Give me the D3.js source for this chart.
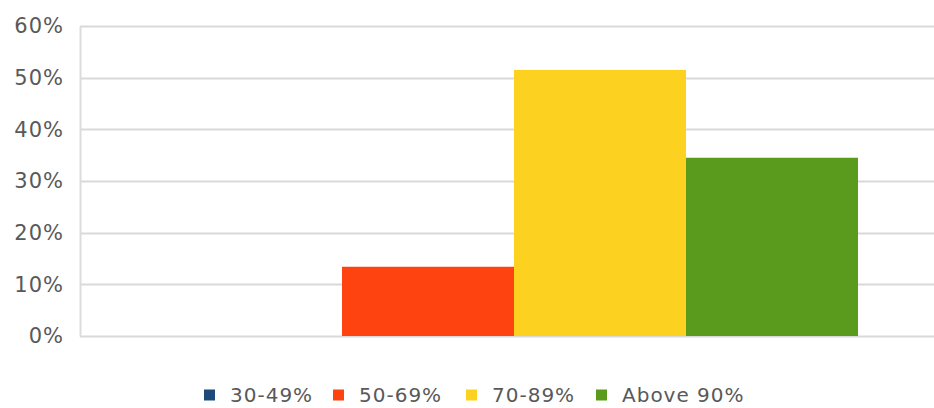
<!DOCTYPE html>
<html><head><meta charset="utf-8">
<script src="https://cdn.jsdelivr.net/npm/d3@7"></script>
<style>body{margin:0;background:#fff}svg{display:block}</style>
</head><body>
<svg id="c" width="934" height="408"></svg>
<script>
const seriesNames = ["30-49%", "50-69%", "70-89%", "Above 90%"];
const seriesValues = [0, 13.4, 51.5, 34.5];
const seriesColors = ["#1d4a78", "#fe4210", "#fdd11f", "#5a9b1d"];
const yTicks = [0, 10, 20, 30, 40, 50, 60];

const svg = d3.select("#c");
const W = 934, H = 408;
const m = {left: 80, right: -14, top: 26, bottom: 72};
const plotL = m.left, plotR = W - m.right, plotT = m.top, plotB = H - m.bottom;

const y = d3.scaleLinear().domain([0, 60]).range([plotB, plotT]);
const outer = d3.scaleBand().domain(["g"]).range([plotL, plotR]).paddingInner(0).paddingOuter(0.1308);
const x = d3.scaleBand().domain(seriesNames).range([outer("g"), outer("g") + outer.bandwidth()]).padding(0);

// gridlines
svg.append("g").selectAll("line").data(yTicks).join("line")
  .attr("x1", plotL).attr("x2", W)
  .attr("y1", d => Math.round(y(d)) + 0.5).attr("y2", d => Math.round(y(d)) + 0.5)
  .attr("stroke", "#d9d9d9").attr("stroke-width", 2);

// y axis
const yAxis = d3.axisLeft(y).tickValues(yTicks).tickFormat(d => d + "%").tickSize(0).tickPadding(16);
const ga = svg.append("g").attr("transform", `translate(${plotL},0)`).call(yAxis);
ga.select(".domain").attr("stroke", "#dcdcdc").attr("stroke-width", 2);
ga.selectAll("text").attr("font-family", "DejaVu Sans").attr("font-size", 21)
  .attr("letter-spacing", 1).attr("fill", "#595959");

// bars
svg.append("g").selectAll("rect").data(seriesNames).join("rect")
  .attr("x", d => x(d)).attr("width", x.bandwidth())
  .attr("y", (d, i) => y(seriesValues[i]))
  .attr("height", (d, i) => y(0) - y(seriesValues[i]))
  .attr("fill", (d, i) => seriesColors[i]);

// legend
const legX = [204, 333, 466, 596];
const lg = svg.append("g").attr("transform", "translate(0,395)");
const items = lg.selectAll("g").data(seriesNames).join("g")
  .attr("transform", (d, i) => `translate(${legX[i]},0)`);
items.append("rect").attr("x", 0).attr("y", -5.5).attr("width", 11).attr("height", 11)
  .attr("fill", (d, i) => seriesColors[i]);
items.append("text").attr("x", 26).attr("y", 0).attr("dy", "0.35em")
  .attr("font-family", "DejaVu Sans").attr("font-size", 20).attr("letter-spacing", 1)
  .attr("fill", "#595959").text(d => d);
</script>
</body></html>
